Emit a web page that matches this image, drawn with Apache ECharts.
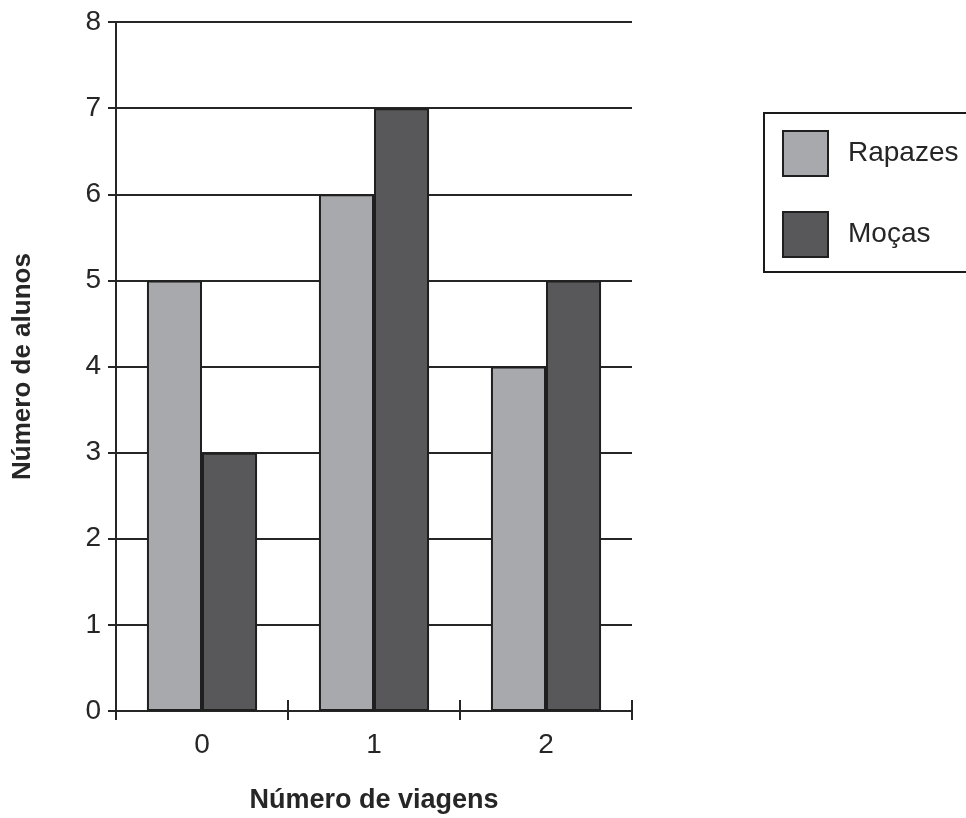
<!DOCTYPE html>
<html>
<head>
<meta charset="utf-8">
<script src="https://cdn.jsdelivr.net/npm/echarts@6/dist/echarts.min.js"></script>
<style>
html,body{margin:0;padding:0;background:#fff;}
#chart{width:966px;height:818px;}
</style>
</head>
<body>
<div id="chart"></div>
<script>
// Number of trips per student, split by group
const categories = ['0', '1', '2'];
const rapazes = [5, 6, 4];
const mocas = [3, 7, 5];
const seriesNames = ['Rapazes', 'Moças'];

const ink = '#262626';
const font = '"Liberation Sans", Arial, sans-serif';

const chart = echarts.init(document.getElementById('chart'), null, { renderer: 'canvas' });
chart.setOption({
  backgroundColor: '#ffffff',
  animation: false,
  grid: { left: 116, right: 334, top: 22, bottom: 107, containLabel: false, outerBoundsMode: 'none' },
  legend: {
    left: 764,
    top: 113,
    orient: 'vertical',
    data: seriesNames,
    itemWidth: 45,
    itemHeight: 45,
    itemGap: 34,
    padding: [17, 60, 14, 18],
    borderColor: '#1a1a1a',
    borderWidth: 2,
    icon: 'rect',
    textStyle: { fontFamily: font, fontSize: 28, color: ink, padding: [0, 0, 0, 15] }
  },
  xAxis: [
    {
      type: 'category',
      data: categories,
      name: 'Número de viagens',
      nameLocation: 'middle',
      nameGap: 76,
      nameTextStyle: { fontFamily: font, fontSize: 27, fontWeight: 'bold', color: ink },
      axisLine: { lineStyle: { color: ink, width: 2 } },
      axisTick: { show: true, length: 9, lineStyle: { color: ink, width: 2 } },
      axisLabel: { fontFamily: font, fontSize: 28, color: ink, margin: 20 }
    },
    {
      type: 'category',
      data: categories,
      position: 'bottom',
      axisLine: { show: false },
      axisTick: { show: true, inside: true, length: 11, lineStyle: { color: ink, width: 2 } },
      axisLabel: { show: false }
    }
  ],
  yAxis: {
    type: 'value',
    min: 0,
    max: 8,
    interval: 1,
    name: 'Número de alunos',
    nameLocation: 'middle',
    nameGap: 80,
    nameRotate: 90,
    nameTextStyle: { fontFamily: font, fontSize: 26, fontWeight: 'bold', color: ink },
    axisLine: { show: true, lineStyle: { color: ink, width: 2 } },
    axisTick: { show: true, length: 8, lineStyle: { color: ink, width: 2 } },
    axisLabel: { fontFamily: font, fontSize: 28, color: ink, margin: 15 },
    splitLine: { show: true, lineStyle: { color: ink, width: 2 } }
  },
  series: [
    {
      name: seriesNames[0],
      type: 'bar',
      data: rapazes,
      barGap: '0%',
      barCategoryGap: '36%',
      itemStyle: { color: '#a8a9ac', borderColor: '#1f1f1f', borderWidth: 2 }
    },
    {
      name: seriesNames[1],
      type: 'bar',
      data: mocas,
      barGap: '0%',
      barCategoryGap: '36%',
      itemStyle: { color: '#58585a', borderColor: '#1f1f1f', borderWidth: 2 }
    }
  ]
});
</script>
</body>
</html>
